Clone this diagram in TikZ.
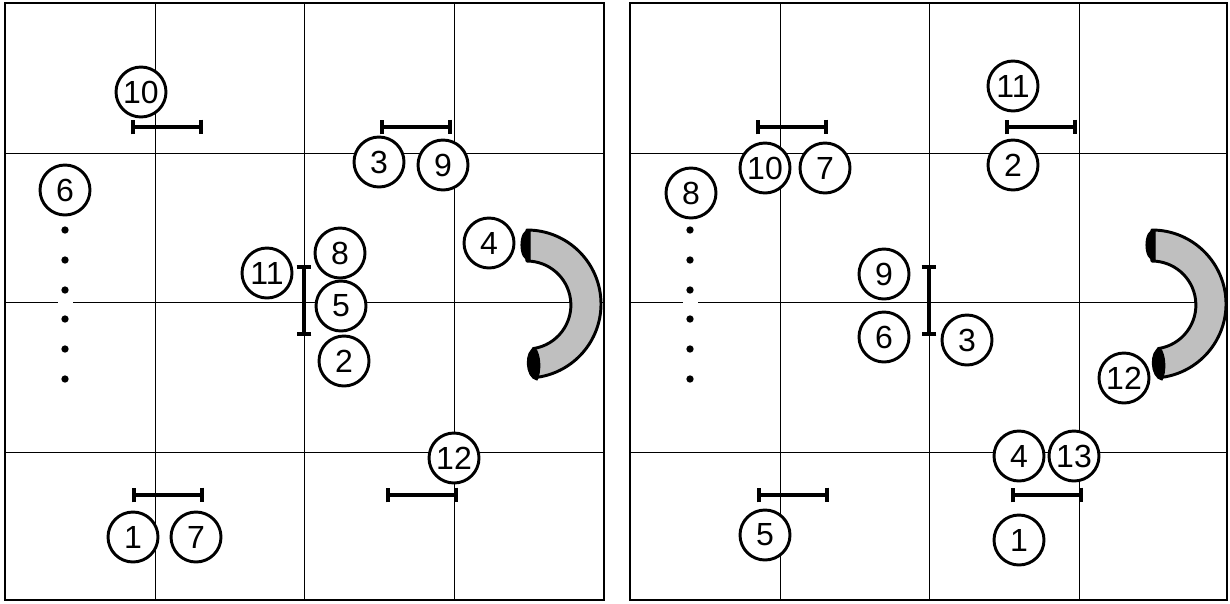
\documentclass[tikz,border=0pt]{standalone}
\usepackage{fontspec}
\setmainfont{Liberation Sans}
\usetikzlibrary{arrows.meta}
\begin{document}
\begin{tikzpicture}[x=0.75pt, y=-0.75pt, gridline/.style = {draw, line width=0.6pt}, fieldbox/.style = {draw, line width=2pt},
    main/.style = {draw, circle, fill=white, line width=2.2pt, minimum size=37.5pt, inner sep=0pt, font=\fontsize{24}{24}\selectfont},
    barline/.style = {draw, line width=2.6pt, {Bar[width=11pt]}-{Bar[width=11pt]}, shorten <=-1.2pt, shorten >=-1.2pt},
    spot/.style = {fill, circle, inner sep=0pt, minimum size=5.5pt},
    shoe/.style = {draw, fill=black!25, line width=2.2pt, line join=round},
    shoeend/.style = {fill, draw, line width=0.8pt}]
    \useasboundingbox (0,0) rectangle (1230,603);
    % left field
    \draw[gridline] (155,3)--(155,600);
    \draw[gridline] (304,3)--(304,600);
    \draw[gridline] (454,3)--(454,600);
    \draw[gridline] (5,153)--(604,153);
    \draw[gridline] (5,302)--(604,302);
    \draw[gridline] (5,452)--(604,452);
    \draw[white, line width=2pt] (58,302)--(73,302);
    \draw[fieldbox] (5,3) rectangle (604,600);
    % right field
    \draw[gridline] (780,3)--(780,600);
    \draw[gridline] (929,3)--(929,600);
    \draw[gridline] (1079,3)--(1079,600);
    \draw[gridline] (630,153)--(1227,153);
    \draw[gridline] (630,302)--(1227,302);
    \draw[gridline] (630,452)--(1227,452);
    \draw[white, line width=2pt] (683,302)--(698,302);
    \draw[fieldbox] (630,3) rectangle (1227,600);
    % bars
    \coordinate (LA1) at (133,127); \coordinate (LA2) at (201,127);
    \coordinate (LB1) at (382,127); \coordinate (LB2) at (450,127);
    \coordinate (LC1) at (304,267); \coordinate (LC2) at (304,334);
    \coordinate (LD1) at (134,495); \coordinate (LD2) at (202,495);
    \coordinate (LE1) at (388,495); \coordinate (LE2) at (456,495);
    \coordinate (RA1) at (758,127); \coordinate (RA2) at (826,127);
    \coordinate (RB1) at (1007,127); \coordinate (RB2) at (1075,127);
    \coordinate (RC1) at (929,267); \coordinate (RC2) at (929,334);
    \coordinate (RD1) at (759,495); \coordinate (RD2) at (827,495);
    \coordinate (RE1) at (1013,495); \coordinate (RE2) at (1081,495);
    \draw[barline] (LA1)--(LA2);
    \draw[barline] (LB1)--(LB2);
    \draw[barline] (LC1)--(LC2);
    \draw[barline] (LD1)--(LD2);
    \draw[barline] (LE1)--(LE2);
    \draw[barline] (RA1)--(RA2);
    \draw[barline] (RB1)--(RB2);
    \draw[barline] (RC1)--(RC2);
    \draw[barline] (RD1)--(RD2);
    \draw[barline] (RE1)--(RE2);
    % curved walls
    \draw[shoe] (527,230) arc[start angle=-90, end angle=82, radius=74] -- (533,348.6) arc[start angle=82, end angle=-90, radius=44] -- cycle;
    \draw[shoeend] (530,230) .. controls (518,228) and (518,262) .. (530,260) -- cycle;
    \draw[shoeend] (537,380) .. controls (525,378) and (524,350) .. (535,348) .. controls (541,355) and (541,372) .. (537,380) -- cycle;
    \draw[shoe] (1152,230) arc[start angle=-90, end angle=82, radius=74] -- (1158,348.6) arc[start angle=82, end angle=-90, radius=44] -- cycle;
    \draw[shoeend] (1155,230) .. controls (1143,228) and (1143,262) .. (1155,260) -- cycle;
    \draw[shoeend] (1162,380) .. controls (1150,378) and (1149,350) .. (1160,348) .. controls (1166,355) and (1166,372) .. (1162,380) -- cycle;
    % dots
    \node[spot] (La) at (65,230) {};
    \node[spot] (Lb) at (65,260) {};
    \node[spot] (Lc) at (65,290) {};
    \node[spot] (Ld) at (65,319) {};
    \node[spot] (Le) at (65,349) {};
    \node[spot] (Lf) at (65,379) {};
    \node[spot] (Ra) at (690,230) {};
    \node[spot] (Rb) at (690,260) {};
    \node[spot] (Rc) at (690,290) {};
    \node[spot] (Rd) at (690,319) {};
    \node[spot] (Re) at (690,349) {};
    \node[spot] (Rf) at (690,379) {};
    % players left
    \node[main] (L10) at (141,92) {10};
    \node[main] (L3) at (379,162) {3};
    \node[main] (L9) at (443,165) {9};
    \node[main] (L6) at (65,190) {6};
    \node[main] (L8) at (340,253) {8};
    \node[main] (L4) at (489,243) {4};
    \node[main] (L11) at (267,273) {11};
    \node[main] (L5) at (341,306) {5};
    \node[main] (L2) at (344,361) {2};
    \node[main] (L12) at (454,458) {12};
    \node[main] (L1) at (133,537) {1};
    \node[main] (L7) at (196,537) {7};
    % players right
    \node[main] (R11) at (1013,86) {11};
    \node[main] (R10) at (765,168) {10};
    \node[main] (R7) at (825,168) {7};
    \node[main] (R2) at (1013,165) {2};
    \node[main] (R8) at (691,193) {8};
    \node[main] (R9) at (884,274) {9};
    \node[main] (R6) at (884,337) {6};
    \node[main] (R3) at (967,340) {3};
    \node[main] (R12) at (1124,378) {12};
    \node[main] (R4) at (1019,456) {4};
    \node[main] (R13) at (1074,456) {13};
    \node[main] (R5) at (765,535) {5};
    \node[main] (R1) at (1019,540) {1};
\end{tikzpicture}
\end{document}
